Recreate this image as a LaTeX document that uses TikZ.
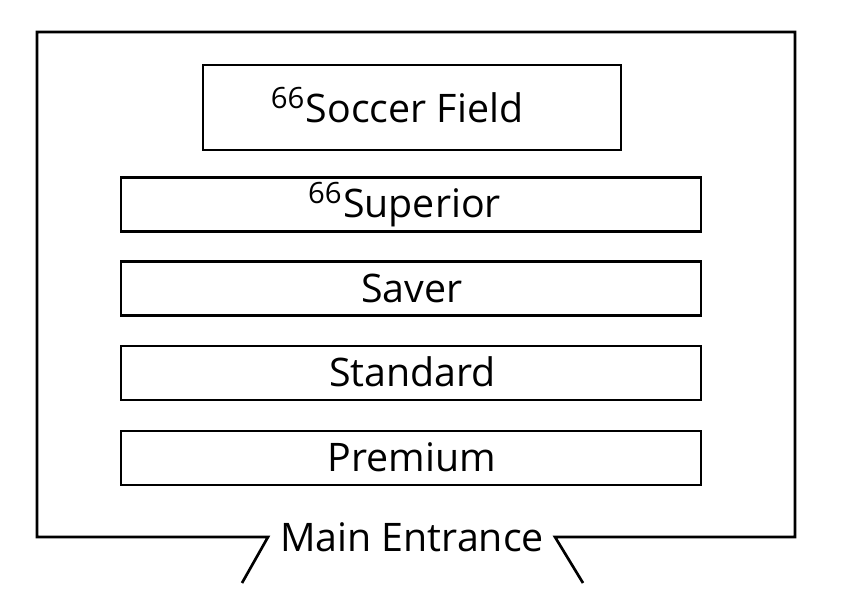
\documentclass[tikz,border=0pt]{standalone}
\usepackage{fontspec}
\setmainfont{Open Sans}
\newcommand\isonum[1]{\raisebox{11pt}{\fontsize{22}{22}\selectfont #1}\kern1pt}
\begin{document}
\begin{tikzpicture}[x=0.75pt,y=-0.75pt,
  wall/.style={line width=2pt, line join=miter},
  zone/.style={draw, line width=1.6pt, inner sep=0pt, minimum width=435pt, minimum height=40.5pt},
  lbl/.style={anchor=base, inner sep=0pt, font=\fontsize{29.5}{31}\selectfont}]
\useasboundingbox (0,0) rectangle (854,616);
% room outline
\coordinate (cTL) at (37,32);
\coordinate (cTR) at (795,32);
\coordinate (cBL) at (37,537);
\coordinate (cBR) at (795,537);
\coordinate (eL) at (268,537);
\coordinate (eLend) at (242,583);
\coordinate (eR) at (555,537);
\coordinate (eRend) at (583,583);
\draw[wall] (eLend) -- (eL) -- (cBL) -- (cTL) -- (cTR) -- (cBR) -- (eR) -- (eRend);
% zones
\node[zone, minimum width=313.5pt, minimum height=63.75pt] (soccer) at (412,107.5) {};
\node[zone] (superior) at (411,204.5) {};
\node[zone] (saver) at (411,288.5) {};
\node[zone] (standard) at (411,373) {};
\node[zone] (premium) at (411,458) {};
% labels
\node[lbl] (tsoccer) at (397,123) {\isonum{66}Soccer Field};
\node[lbl] (tsuperior) at (404.5,218) {\isonum{66}Superior};
\node[lbl] (tsaver) at (412,303) {Saver};
\node[lbl] (tstandard) at (412.5,387) {Standard};
\node[lbl] (tpremium) at (412,472) {Premium};
\node[lbl] (tentrance) at (412,552) {Main Entrance};
\end{tikzpicture}
\end{document}
